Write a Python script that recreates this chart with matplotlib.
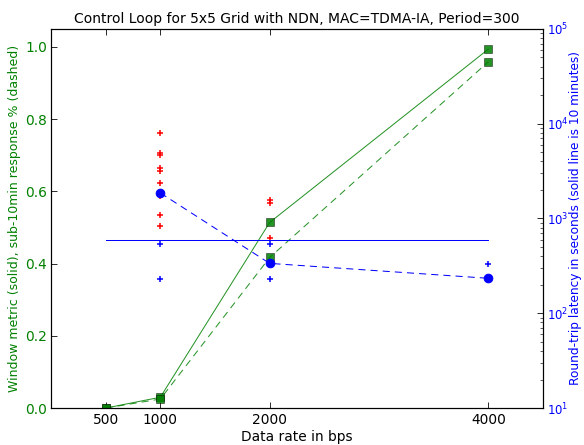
import numpy as np
import matplotlib
matplotlib.use('Agg')
import matplotlib.pyplot as plt

# data rates (bps)
rates = [500, 1000, 2000, 4000]

# left axis: window metric (solid) and sub-10min response (dashed)
window_metric = [0.0, 0.03, 0.514, 0.994]
sub10_response = [0.0, 0.025, 0.417, 0.959]

# per-run points (red +) on left axis
red_x = [1000, 1000, 1000, 1000, 1000, 1000, 1000, 1000, 1000, 1000, 2000, 2000, 2000]
red_y = [0.762, 0.707, 0.702, 0.666, 0.657, 0.622, 0.591, 0.586, 0.536, 0.503, 0.575, 0.568, 0.472]

# right axis: round-trip latency (s)
latency_mean = [1860, 336, 234]
latency_rates = [1000, 2000, 4000]
blue_x = [1000, 1000, 2000, 2000, 4000]
blue_y = [532, 229, 532, 229, 328]
ten_minutes = 600

fig = plt.figure(figsize=(584 / 73, 445 / 73), dpi=73)
ax = fig.add_axes([51 / 584, 0.083, 492 / 584, 0.852])
ax2 = ax.twinx()

ax.plot(rates, window_metric, '-', color='g', lw=1, marker='s', markersize=7,
        mec='k', mew=0.5, alpha=0.85)
ax.plot(rates, sub10_response, '--', color='g', lw=1, dashes=(7, 5), marker='s',
        markersize=7, mec='k', mew=0.5, alpha=0.85)
ax.plot(red_x, red_y, 'r+', markersize=5, mew=1.5)

ax2.plot(latency_rates, latency_mean, '--', color='b', lw=1, dashes=(7, 5),
         marker='o', markersize=8.5, mec='b')
ax2.plot(blue_x, blue_y, 'b+', markersize=5, mew=1.5)
ax2.plot([rates[0], rates[-1]], [ten_minutes, ten_minutes], 'b-', lw=1)
ax2.set_yscale('log')
ax2.set_ylim(10, 1e5)

ax.set_xlim(0, 4500)
ax.set_ylim(0, 1.05)
ax.set_xticks(rates)
ax.set_yticks([0.0, 0.2, 0.4, 0.6, 0.8, 1.0])

for sp in ax.spines.values():
    sp.set_linewidth(1.2)

ax.tick_params(axis='x', direction='in', top=True, labelsize=13.5, length=6, pad=5)
ax.tick_params(axis='y', direction='in', labelsize=13.5, labelcolor='g', length=6, pad=4)
ax2.tick_params(axis='y', which='both', direction='in', labelsize=11.5, labelcolor='b', pad=4)
ax2.tick_params(axis='y', which='major', length=6)
ax2.tick_params(axis='y', which='minor', length=3)

ax.set_xlabel('Data rate in bps', fontsize=13.5, labelpad=3)
ax.set_ylabel('Window metric (solid), sub-10min response % (dashed)', color='g',
              fontsize=12.3, labelpad=4)
ax2.set_ylabel('Round-trip latency in seconds (solid line is 10 minutes)', color='b',
               fontsize=12, labelpad=0)
ax.set_title('Control Loop for 5x5 Grid with NDN, MAC=TDMA-IA, Period=300', fontsize=13.7)

fig.savefig('out.png', dpi=73)
